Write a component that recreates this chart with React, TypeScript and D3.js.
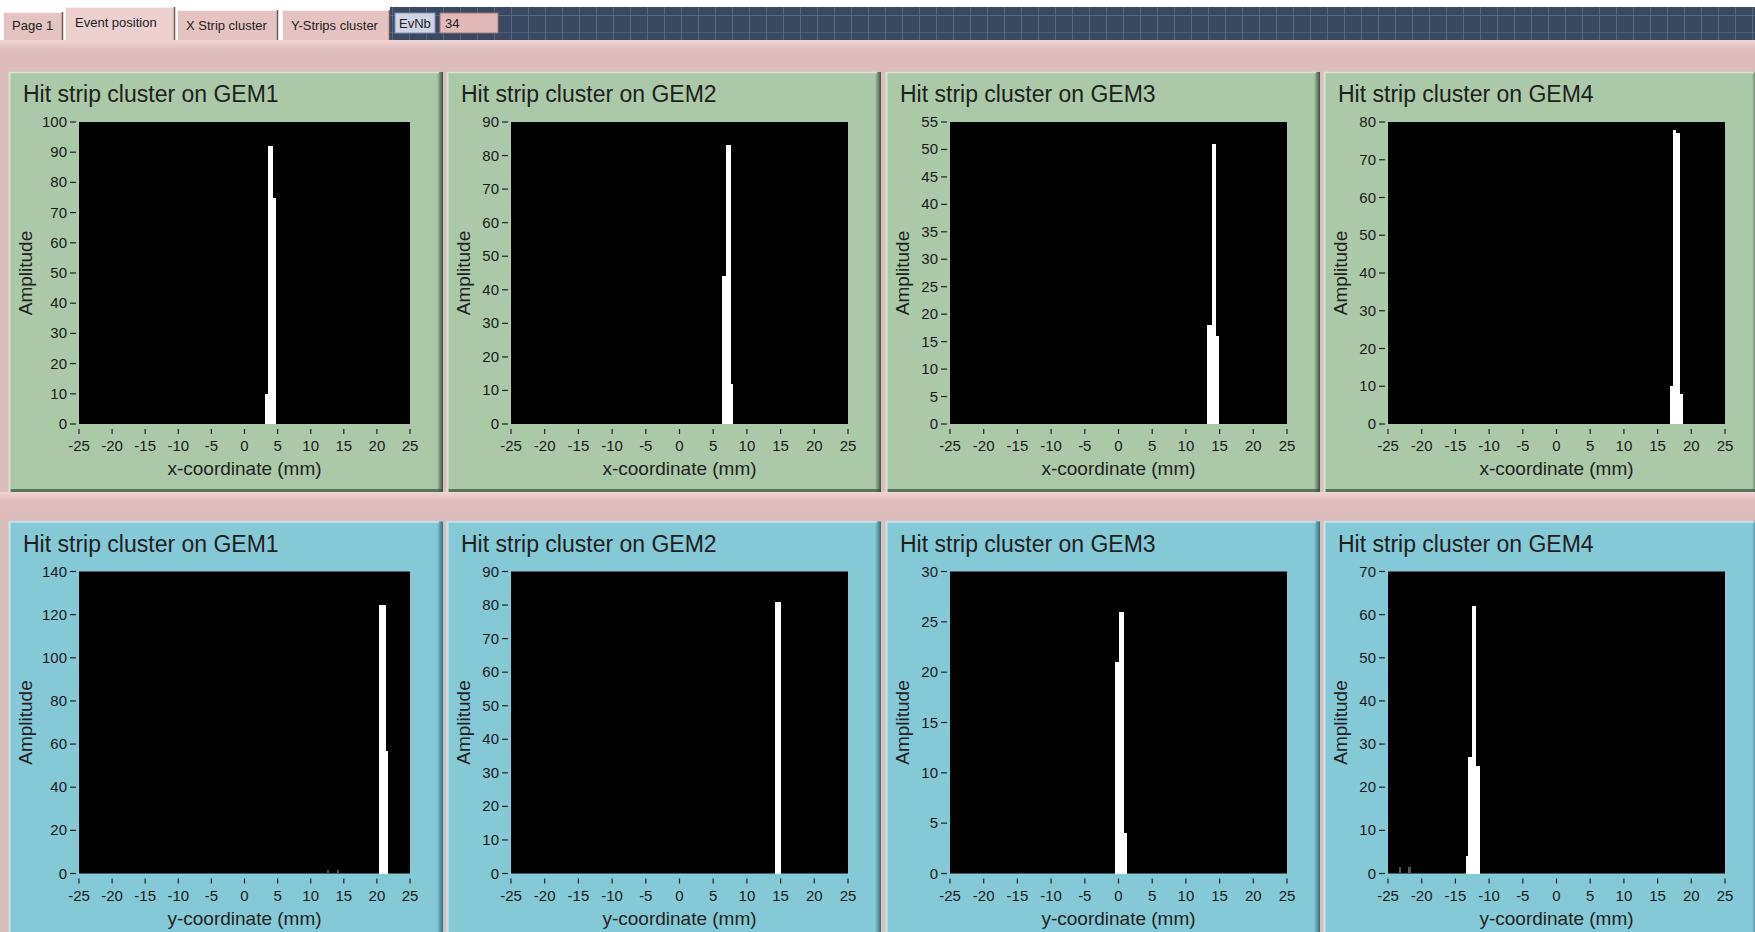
import React from 'react';
import * as d3 from 'd3';

const W = 1755;
const H = 932;

// tab strip
const tabLabels = ['Page 1', 'Event position', 'X Strip cluster', 'Y-Strips cluster'];
const evLabel = 'EvNb';
const evValue = '34';

const xTicks = [-25, -20, -15, -10, -5, 0, 5, 10, 15, 20, 25];
const titles = ['Hit strip cluster on GEM1', 'Hit strip cluster on GEM2', 'Hit strip cluster on GEM3', 'Hit strip cluster on GEM4'];

// top row: x strips (bin edges in mm, amplitudes)
const gem1XEdges = [3.1, 3.6, 4.37, 4.78];
const gem1XAmps = [10, 92, 75];
const gem2XEdges = [6.25, 6.9, 7.65, 8.0];
const gem2XAmps = [44, 83, 12];
const gem3XEdges = [13.13, 13.87, 14.47, 14.96];
const gem3XAmps = [18, 51, 16];
const gem4XEdges = [16.8, 17.3, 17.8, 18.3, 18.8];
const gem4XAmps = [10, 78, 77, 8];

// bottom row: y strips
const gem1YEdges = [12.4, 12.8, 13.9, 14.3, 20.35, 21.35, 21.72];
const gem1YAmps = [1.5, 0, 1.5, 0, 124.5, 57];
const gem2YEdges = [14.12, 15.0];
const gem2YAmps = [81];
const gem3YEdges = [-0.5, 0, 0.83, 1.22];
const gem3YAmps = [21, 26, 4];
const gem4YEdges = [-23.4, -23.0, -22.0, -21.6, -13.5, -13.1, -12.53, -11.89, -11.3];
const gem4YAmps = [1.5, 0, 1.5, 0, 4, 27, 62, 25];

const yTicksTop = [
  [0, 10, 20, 30, 40, 50, 60, 70, 80, 90, 100],
  [0, 10, 20, 30, 40, 50, 60, 70, 80, 90],
  [0, 5, 10, 15, 20, 25, 30, 35, 40, 45, 50, 55],
  [0, 10, 20, 30, 40, 50, 60, 70, 80],
];
const yTicksBottom = [
  [0, 20, 40, 60, 80, 100, 120, 140],
  [0, 10, 20, 30, 40, 50, 60, 70, 80, 90],
  [0, 5, 10, 15, 20, 25, 30],
  [0, 10, 20, 30, 40, 50, 60, 70],
];

const topEdges = [gem1XEdges, gem2XEdges, gem3XEdges, gem4XEdges];
const topAmps = [gem1XAmps, gem2XAmps, gem3XAmps, gem4XAmps];
const bottomEdges = [gem1YEdges, gem2YEdges, gem3YEdges, gem4YEdges];
const bottomAmps = [gem1YAmps, gem2YAmps, gem3YAmps, gem4YAmps];

const panelLefts = [9, 447, 886, 1324];
const FONT = '"Liberation Sans", Arial, sans-serif';

type PanelProps = {
  id: string;
  left: number;
  top: number;
  height: number;
  fill: string;
  light: string;
  dark: string;
  title: string;
  xLabel: string;
  yTicks: number[];
  edges: number[];
  amps: number[];
};

function Panel({ id, left, top, height, fill, light, dark, title, xLabel, yTicks, edges, amps }: PanelProps) {
  const width = 434;
  const wide = String(d3.max(yTicks)).length >= 3;
  const plotLeft = left + (wide ? 70 : 64);
  const plotRight = left + 401;
  const plotTop = top + 50;
  const plotBottom = top + 352;

  const x = d3.scaleLinear().domain([-25, 25]).range([plotLeft, plotRight]);
  const y = d3.scaleLinear().domain([0, d3.max(yTicks) as number]).range([plotBottom, plotTop]);

  return (
    <g>
      <defs>
        <linearGradient id={`sh-${id}`} x1="0" x2="1" y1="0" y2="0">
          <stop offset="0%" stopColor={fill} />
          <stop offset="100%" stopColor={dark} />
        </linearGradient>
      </defs>
      <rect x={left} y={top} width={width} height={height} fill={fill} />
      <rect x={left + width - 6} y={top} width={6} height={height} fill={`url(#sh-${id})`} />
      <rect x={left} y={top + height - 3} width={width} height={3} fill={dark} opacity={0.7} />
      <line x1={left + 0.5} x2={left + 0.5} y1={top} y2={top + height} stroke={light} strokeWidth={2} />
      <line x1={left} x2={left + width - 4} y1={top + 0.5} y2={top + 0.5} stroke={light} strokeWidth={1.5} />

      <text x={left + 14} y={plotTop - 20} fontFamily={FONT} fontSize={23} fill="#1d211d">{title}</text>

      <rect x={plotLeft} y={plotTop} width={plotRight - plotLeft} height={plotBottom - plotTop} fill="#000" />
      {amps.map((a, i) =>
        a > 0 ? (
          <rect
            key={i}
            x={Math.round(x(edges[i]))}
            y={Math.round(y(a))}
            width={Math.max(1, Math.round(x(edges[i + 1])) - Math.round(x(edges[i])))}
            height={Math.round(plotBottom) - Math.round(y(a))}
            fill={a < 3 ? '#555' : '#fff'}
            shapeRendering="crispEdges"
          />
        ) : null
      )}

      {yTicks.map((t) => (
        <g key={`y${t}`}>
          <line x1={plotLeft - 9} x2={plotLeft - 3} y1={y(t)} y2={y(t)} stroke="#222" strokeWidth={1.2} />
          <text x={plotLeft - 12} y={y(t) + 5} textAnchor="end" fontFamily={FONT} fontSize={15} fill="#1a1a1a">{t}</text>
        </g>
      ))}
      {xTicks.map((t) => (
        <g key={`x${t}`}>
          <line x1={x(t)} x2={x(t)} y1={plotBottom + 5} y2={plotBottom + 10} stroke="#222" strokeWidth={1.2} />
          <text x={x(t)} y={plotBottom + 27} textAnchor="middle" fontFamily={FONT} fontSize={15} fill="#1a1a1a">{t}</text>
        </g>
      ))}
      <text x={(plotLeft + plotRight) / 2} y={plotBottom + 51} textAnchor="middle" fontFamily={FONT} fontSize={19} fill="#222">{xLabel}</text>
      <text
        transform={`translate(${left + 23},${(plotTop + plotBottom) / 2}) rotate(-90)`}
        textAnchor="middle"
        fontFamily={FONT}
        fontSize={19}
        fill="#222"
      >
        Amplitude
      </text>
    </g>
  );
}

function TabBar() {
  const tabs = [
    { x: 3, w: 60, top: 12 },
    { x: 65, w: 110, top: 7 },
    { x: 177, w: 101, top: 10 },
    { x: 282, w: 108, top: 10 },
  ];
  const gridX = d3.range(392, W, 17);
  return (
    <g>
      <rect x={0} y={0} width={W} height={40} fill="#fff" />
      <rect x={390} y={7} width={W - 390} height={33} fill="#3a4960" />
      {gridX.map((gx) => (
        <line key={gx} x1={gx + 0.5} x2={gx + 0.5} y1={7} y2={40} stroke="#5f7595" strokeWidth={1} opacity={0.7} />
      ))}
      <line x1={390} x2={W} y1={15.5} y2={15.5} stroke="#5f7595" opacity={0.7} />
      <line x1={390} x2={W} y1={32.5} y2={32.5} stroke="#5f7595" opacity={0.5} />
      {tabs.map((t, i) => (
        <g key={i}>
          <rect x={t.x} y={t.top} width={t.w} height={40 - t.top + (i === 1 ? 2 : 0)} fill={i === 1 ? '#edd0d0' : '#e5c3c3'} />
          <line x1={t.x + 0.5} x2={t.x + 0.5} y1={t.top} y2={40} stroke="#fbeeee" />
          <line x1={t.x} x2={t.x + t.w} y1={t.top + 0.5} y2={t.top + 0.5} stroke="#fbeeee" />
          <line x1={t.x + t.w - 0.5} x2={t.x + t.w - 0.5} y1={t.top} y2={40} stroke="#6e5a5a" strokeWidth={1.5} />
          <text x={t.x + (i === 1 ? 10 : 9)} y={i === 1 ? 27 : 30} fontFamily={FONT} fontSize={13} fill="#222">{tabLabels[i]}</text>
        </g>
      ))}
      <rect x={395} y={13} width={40} height={20} fill="#cfd4e6" stroke="#8a8fa8" />
      <text x={399} y={28} fontFamily={FONT} fontSize={13} fill="#222">{evLabel}</text>
      <rect x={440} y={13} width={58} height={20} fill="#e2b8b8" stroke="#9a7a7a" />
      <text x={445} y={28} fontFamily={FONT} fontSize={13} fill="#222">{evValue}</text>
    </g>
  );
}

export default function App() {
  return (
    <svg width={W} height={H} style={{ position: 'absolute', left: 0, top: 0, display: 'block' }}>
      <defs>
        <linearGradient id="band" x1="0" x2="0" y1="0" y2="1">
          <stop offset="0%" stopColor="#f0d6d6" />
          <stop offset="30%" stopColor="#ddbdbd" />
          <stop offset="100%" stopColor="#dcbcbc" />
        </linearGradient>
      </defs>
      <rect x={0} y={0} width={W} height={H} fill="#dcbdbd" />
      <rect x={0} y={40} width={W} height={32} fill="url(#band)" />
      <rect x={0} y={492} width={W} height={30} fill="url(#band)" />
      <TabBar />
      {panelLefts.map((l, i) => (
        <Panel
          key={`t${i}`}
          id={`t${i}`}
          left={l}
          top={72}
          height={420}
          fill="#abc9a9"
          light="#d3e6d2"
          dark="#3d503d"
          title={titles[i]}
          xLabel="x-coordinate (mm)"
          yTicks={yTicksTop[i]}
          edges={topEdges[i]}
          amps={topAmps[i]}
        />
      ))}
      {panelLefts.map((l, i) => (
        <Panel
          key={`b${i}`}
          id={`b${i}`}
          left={l}
          top={521.5}
          height={420}
          fill="#85c9d7"
          light="#bfe9f1"
          dark="#3b6b76"
          title={titles[i]}
          xLabel="y-coordinate (mm)"
          yTicks={yTicksBottom[i]}
          edges={bottomEdges[i]}
          amps={bottomAmps[i]}
        />
      ))}
    </svg>
  );
}
